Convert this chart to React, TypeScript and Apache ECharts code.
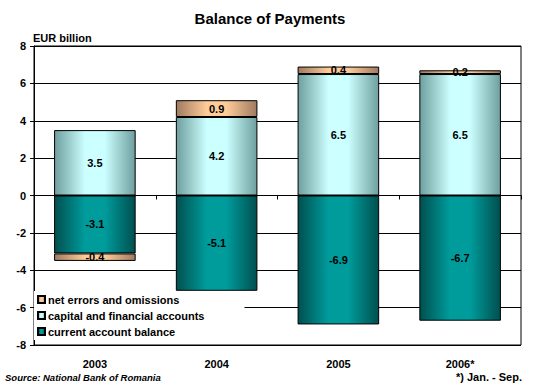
import React, { useEffect, useRef } from "react";
import * as echarts from "echarts";

const categories = ["2003", "2004", "2005", "2006*"];
const currentAccount = [-3.1, -5.1, -6.9, -6.7];
const capitalFinancial = [3.5, 4.2, 6.5, 6.5];
const netErrors = [-0.4, 0.9, 0.4, 0.2];
const yTicks = { min: -8, max: 8, interval: 2 };

const FONT = "'Liberation Sans', Arial, sans-serif";

function grad(edge: string, mid: string) {
  return new echarts.graphic.LinearGradient(0, 0, 1, 0, [
    { offset: 0, color: edge },
    { offset: 0.38, color: mid },
    { offset: 0.62, color: mid },
    { offset: 1, color: edge },
  ]);
}

export default function App() {
  const ref = useRef<HTMLDivElement>(null);
  useEffect(() => {
    if (!ref.current) return;
    const chart = echarts.init(ref.current, null, { renderer: "svg" });
    const label = {
      show: true,
      position: "inside",
      color: "#000",
      fontFamily: FONT,
      fontWeight: "bold",
      fontSize: 11,
      formatter: (p: any) => p.value.toFixed(1),
    };
    const common = {
      type: "bar",
      stack: "total",
      barCategoryGap: "33%",
      xAxisIndex: 0,
      label,
    };
    chart.setOption({
      animation: false,
      backgroundColor: "#fff",
      title: [
        {
          text: "Balance of Payments",
          left: "center",
          top: 6,
          textStyle: { fontFamily: FONT, fontWeight: "bold", fontSize: 15, color: "#000" },
        },
      ],
      graphic: [
        {
          type: "text",
          left: 33,
          top: 32,
          style: { text: "EUR billion", font: `bold 11px ${FONT}`, fill: "#000" },
        },
        {
          type: "text",
          left: 5,
          top: 372,
          style: { text: "Source: National Bank of Romania", font: `italic bold 9.5px ${FONT}`, fill: "#000" },
        },
        {
          type: "text",
          right: 18,
          top: 371,
          style: { text: "*) Jan. - Sep.", font: `bold 11px ${FONT}`, fill: "#000" },
        },
      ],
      grid: { left: 34, right: 19, top: 46, bottom: 45, show: true, borderColor: "#000", borderWidth: 1 },
      legend: {
        orient: "vertical",
        left: 34,
        top: 291,
        padding: [3, 40, 3, 3],
        itemGap: 5,
        itemWidth: 7,
        itemHeight: 7,
        backgroundColor: "#fff",
        data: ["net errors and omissions", "capital and financial accounts", "current account balance"],
        textStyle: { fontFamily: FONT, fontWeight: "bold", fontSize: 11, color: "#000", padding: [0, 0, 0, -2] },
        icon: "rect",
      },
      xAxis: [
        {
          type: "category",
          data: categories,
          position: "bottom",
          axisLine: { show: false, onZero: false },
          axisTick: { show: false },
          axisLabel: { fontFamily: FONT, fontWeight: "bold", fontSize: 11, color: "#000", margin: 13 },
        },
        {
          type: "category",
          data: categories,
          position: "bottom",
          axisLine: { show: true, onZero: true, lineStyle: { color: "#000", width: 1 } },
          axisTick: { show: true, length: 4, lineStyle: { color: "#000" } },
          axisLabel: { show: false },
        },
      ],
      yAxis: {
        type: "value",
        min: yTicks.min,
        max: yTicks.max,
        interval: yTicks.interval,
        axisLine: { show: true, lineStyle: { color: "#000" } },
        axisTick: { show: true, length: 4, lineStyle: { color: "#000" } },
        splitLine: { show: true, lineStyle: { color: "#000", width: 1 } },
        axisLabel: { fontFamily: FONT, fontWeight: "bold", fontSize: 11, color: "#000", margin: 8 },
      },
      series: [
        {
          ...common,
          name: "current account balance",
          data: currentAccount,
          itemStyle: { color: grad("#004f4f", "#009c9c"), borderColor: "#000", borderWidth: 1 },
        },
        {
          ...common,
          name: "capital and financial accounts",
          data: capitalFinancial,
          itemStyle: { color: grad("#6f9f9f", "#ccffff"), borderColor: "#000", borderWidth: 1 },
        },
        {
          ...common,
          name: "net errors and omissions",
          data: netErrors,
          itemStyle: { color: grad("#a07a60", "#ffcc99"), borderColor: "#000", borderWidth: 1 },
        },
      ],
    });
    return () => chart.dispose();
  }, []);
  return <div ref={ref} style={{ width: 540, height: 390, position: "absolute", left: 0, top: 0 }} />;
}
